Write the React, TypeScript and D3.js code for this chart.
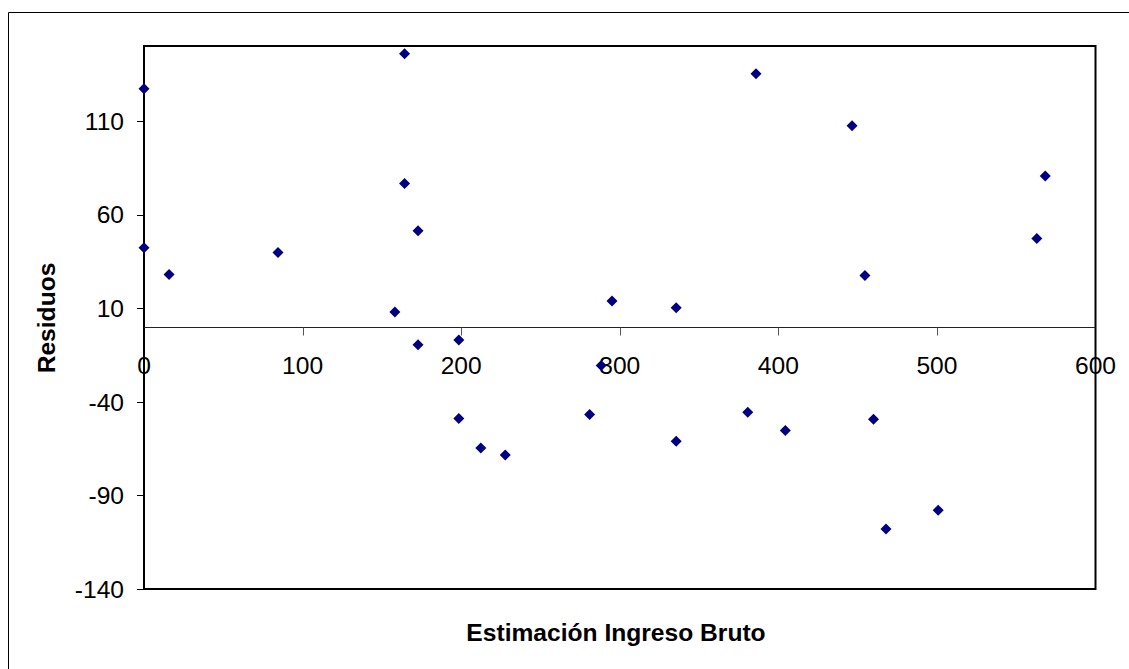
import React, { useEffect, useRef } from 'react';
import * as d3 from 'd3';

// Estimación Ingreso Bruto (x) vs Residuos (y)
const estimatedIncome = [
  0, 0, 15.8, 84.5, 158.2, 164.3, 164.3, 172.8, 172.8, 198.5, 198.5, 212.4, 227.8, 281,
  288.3, 295.1, 335.6, 335.6, 380.7, 385.9, 404.4, 446.5, 454.6, 460, 467.9, 500.8, 563, 568.3,
];
const residuals = [
  127.2, 42.2, 27.9, 39.7, 7.9, 145.9, 76.6, 51.3, -9.6, -7.0, -49.0, -64.7, -68.4, -46.8,
  -20.7, 13.8, 10.2, -61.1, -45.6, 135.2, -55.3, 107.4, 27.4, -49.4, -107.9, -97.9, 47.2, 80.6,
];
const xTicks = [0, 100, 200, 300, 400, 500, 600];
const yTicks = [-140, -90, -40, 10, 60, 110];

const W = 1129;
const H = 669;
const FONT = '"Liberation Sans", Arial, sans-serif';
const FONT_SIZE = '24.6px';

const App = () => {
  const ref = useRef<SVGSVGElement>(null);

  useEffect(() => {
    const svg = d3.select(ref.current);
    svg.selectAll('*').remove();

    const left = 144, right = 1095.5, top = 46, bottom = 589;
    const x = d3.scaleLinear().domain([0, 600]).range([left, right]);
    const y = d3.scaleLinear().domain([-140, 150]).range([bottom, top]);

    svg.append('rect').attr('width', W).attr('height', H).attr('fill', 'white');

    // outer chart border (only top and left show in the frame)
    svg.append('path')
      .attr('d', `M8.5,${H} L8.5,12.5 L${W},12.5`)
      .attr('fill', 'none')
      .attr('stroke', 'black')
      .attr('stroke-width', 1);

    // plot area frame
    svg.append('rect')
      .attr('x', left).attr('y', top)
      .attr('width', right - left).attr('height', bottom - top)
      .attr('fill', 'none')
      .attr('stroke', 'black')
      .attr('stroke-width', 2);

    // y ticks + labels
    const yAxis = svg.append('g');
    yAxis.selectAll('line')
      .data(yTicks)
      .enter()
      .append('line')
      .attr('x1', left - 7).attr('x2', left)
      .attr('y1', d => Math.round(y(d)) + 0.5)
      .attr('y2', d => Math.round(y(d)) + 0.5)
      .attr('stroke', 'black');
    yAxis.selectAll('text')
      .data(yTicks)
      .enter()
      .append('text')
      .attr('x', 124)
      .attr('y', d => y(d))
      .attr('dy', '0.36em')
      .attr('text-anchor', 'end')
      .style('font-family', FONT)
      .style('font-size', FONT_SIZE)
      .text(d => d);

    // horizontal axis at y = 0
    const y0 = Math.round(y(0)) + 0.5;
    svg.append('line')
      .attr('x1', left).attr('x2', right)
      .attr('y1', y0).attr('y2', y0)
      .attr('stroke', '#222')
      .attr('stroke-width', 1);
    const xAxis = svg.append('g');
    xAxis.selectAll('line')
      .data(xTicks.slice(1, -1))
      .enter()
      .append('line')
      .attr('x1', d => Math.round(x(d)) + 0.5)
      .attr('x2', d => Math.round(x(d)) + 0.5)
      .attr('y1', y0).attr('y2', y0 + 8)
      .attr('stroke', '#555');
    xAxis.selectAll('text')
      .data(xTicks)
      .enter()
      .append('text')
      .attr('x', d => x(d))
      .attr('y', 374)
      .attr('text-anchor', 'middle')
      .style('font-family', FONT)
      .style('font-size', FONT_SIZE)
      .text(d => d);

    // axis titles
    svg.append('text')
      .attr('x', 616).attr('y', 641)
      .attr('text-anchor', 'middle')
      .style('font-family', FONT)
      .style('font-size', FONT_SIZE)
      .style('font-weight', 'bold')
      .text('Estimación Ingreso Bruto');
    svg.append('text')
      .attr('transform', 'translate(55,318) rotate(-90)')
      .attr('text-anchor', 'middle')
      .style('font-family', FONT)
      .style('font-size', FONT_SIZE)
      .style('font-weight', 'bold')
      .text('Residuos');

    // markers
    const points = estimatedIncome.map((v, i) => ({ x: v, y: residuals[i] }));
    const diamond = (cx: number, cy: number, r: number) =>
      `M${cx},${cy - r} L${cx + r},${cy} L${cx},${cy + r} L${cx - r},${cy} Z`;
    svg.append('g')
      .selectAll('path')
      .data(points)
      .enter()
      .append('path')
      .attr('d', d => diamond(x(d.x), y(d.y), 5.5))
      .attr('fill', '#000080');
  }, []);

  return (
    <svg
      ref={ref}
      width={W}
      height={H}
      style={{ position: 'absolute', left: 0, top: 0, display: 'block' }}
    />
  );
};

export default App;
